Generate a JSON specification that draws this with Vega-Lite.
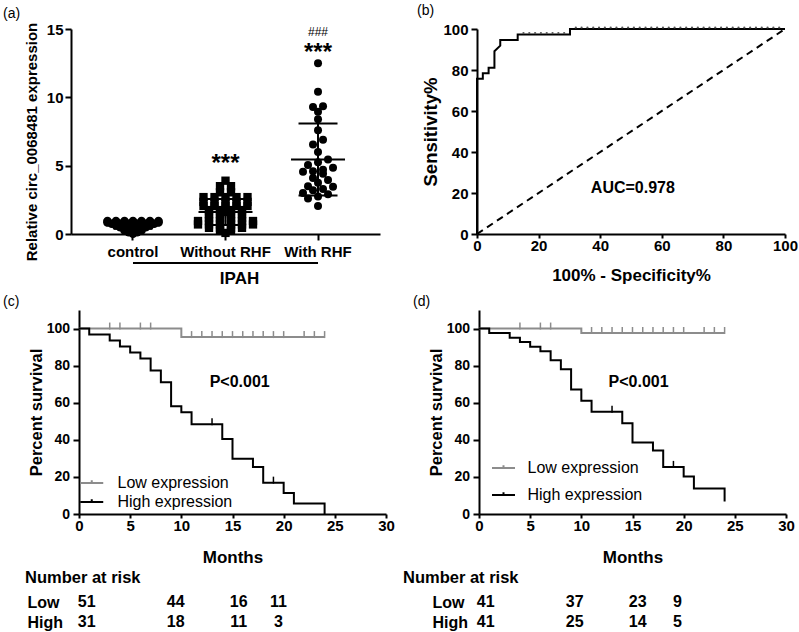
{
  "$schema": "https://vega.github.io/schema/vega-lite/v6.json",
  "padding": {"left": 3, "top": 3, "right": 0, "bottom": 0},
  "config": {
    "font": "Liberation Sans",
    "view": {"stroke": null},
    "axis": {"domainColor": "#000", "domainWidth": 2, "tickColor": "#000", "tickWidth": 2, "tickSize": 6, "labelColor": "#000", "labelFontSize": 15, "labelFontWeight": "bold", "titleColor": "#000", "titleFontSize": 15, "titleFontWeight": "bold", "grid": false, "labelPadding": 3, "labelFlush": false, "labelOverlap": false},
    "title": {"fontSize": 14, "fontWeight": "normal", "color": "#000", "anchor": "start", "frame": "group", "offset": 4}
  },
  "spacing": 4,
  "resolve": {"scale": {"color": "independent"}, "legend": {"color": "independent"}},
  "datasets": {
    "expr": [
      {"g":"control","v":0.95},{"g":"control","v":0.95},{"g":"control","v":0.95},{"g":"control","v":0.95},{"g":"control","v":0.95},{"g":"control","v":0.95},{"g":"control","v":0.95},
      {"g":"control","v":0.85},{"g":"control","v":0.85},{"g":"control","v":0.85},{"g":"control","v":0.85},{"g":"control","v":0.85},{"g":"control","v":0.85},{"g":"control","v":0.85},
      {"g":"control","v":0.75},{"g":"control","v":0.75},{"g":"control","v":0.75},{"g":"control","v":0.75},{"g":"control","v":0.75},{"g":"control","v":0.75},
      {"g":"control","v":0.62},{"g":"control","v":0.62},{"g":"control","v":0.62},{"g":"control","v":0.62},{"g":"control","v":0.62},
      {"g":"control","v":0.5},{"g":"control","v":0.5},{"g":"control","v":0.5},{"g":"control","v":0.5},
      {"g":"control","v":0.38},{"g":"control","v":0.38},{"g":"control","v":0.38},
      {"g":"control","v":0.26},{"g":"control","v":0.26},{"g":"control","v":0.26},
      {"g":"control","v":0.14},{"g":"control","v":0.14},
      {"g":"control","v":0.03},
      {"g":"Without RHF","v":3.9},
      {"g":"Without RHF","v":3.5},{"g":"Without RHF","v":3.5},
      {"g":"Without RHF","v":3.05},{"g":"Without RHF","v":3.05},
      {"g":"Without RHF","v":2.7},{"g":"Without RHF","v":2.7},{"g":"Without RHF","v":2.7},{"g":"Without RHF","v":2.7},{"g":"Without RHF","v":2.7},
      {"g":"Without RHF","v":2.35},{"g":"Without RHF","v":2.35},{"g":"Without RHF","v":2.35},{"g":"Without RHF","v":2.35},{"g":"Without RHF","v":2.35},
      {"g":"Without RHF","v":2.05},{"g":"Without RHF","v":2.05},{"g":"Without RHF","v":2.05},{"g":"Without RHF","v":2.05},{"g":"Without RHF","v":2.05},
      {"g":"Without RHF","v":1.75},{"g":"Without RHF","v":1.75},{"g":"Without RHF","v":1.75},{"g":"Without RHF","v":1.75},
      {"g":"Without RHF","v":1.6},
      {"g":"Without RHF","v":1.45},{"g":"Without RHF","v":1.45},{"g":"Without RHF","v":1.45},{"g":"Without RHF","v":1.45},
      {"g":"Without RHF","v":1.2},{"g":"Without RHF","v":1.2},{"g":"Without RHF","v":1.2},{"g":"Without RHF","v":1.2},
      {"g":"Without RHF","v":0.95},{"g":"Without RHF","v":0.95},{"g":"Without RHF","v":0.95},{"g":"Without RHF","v":0.95},{"g":"Without RHF","v":0.95},{"g":"Without RHF","v":0.95},
      {"g":"Without RHF","v":0.7},{"g":"Without RHF","v":0.7},{"g":"Without RHF","v":0.7},{"g":"Without RHF","v":0.7},{"g":"Without RHF","v":0.7},{"g":"Without RHF","v":0.7},
      {"g":"Without RHF","v":0.45},{"g":"Without RHF","v":0.45},{"g":"Without RHF","v":0.45},{"g":"Without RHF","v":0.45},
      {"g":"Without RHF","v":0.25},{"g":"Without RHF","v":0.25},
      {"g":"Without RHF","v":0.08},
      {"g":"With RHF","v":12.5},{"g":"With RHF","v":10.4},{"g":"With RHF","v":9.35},{"g":"With RHF","v":9.3},{"g":"With RHF","v":8.95},
      {"g":"With RHF","v":8.4},{"g":"With RHF","v":7.6},{"g":"With RHF","v":6.9},{"g":"With RHF","v":6.55},{"g":"With RHF","v":6.0},
      {"g":"With RHF","v":5.45},{"g":"With RHF","v":5.25},{"g":"With RHF","v":5.05},{"g":"With RHF","v":4.85},{"g":"With RHF","v":4.7},
      {"g":"With RHF","v":4.6},{"g":"With RHF","v":4.55},{"g":"With RHF","v":4.4},{"g":"With RHF","v":4.1},{"g":"With RHF","v":3.95},
      {"g":"With RHF","v":3.75},{"g":"With RHF","v":3.5},{"g":"With RHF","v":3.45},{"g":"With RHF","v":3.3},{"g":"With RHF","v":3.2},
      {"g":"With RHF","v":3.0},{"g":"With RHF","v":2.9},{"g":"With RHF","v":2.75},{"g":"With RHF","v":2.6},{"g":"With RHF","v":2.05}
    ],
    "roc": [
      {"fpr":0,"tpr":0},{"fpr":0,"tpr":75.68},{"fpr":1.89,"tpr":75.68},{"fpr":1.89,"tpr":78.38},{"fpr":3.77,"tpr":78.38},{"fpr":3.77,"tpr":81.08},
      {"fpr":5.66,"tpr":81.08},{"fpr":5.66,"tpr":89.19},{"fpr":7.55,"tpr":91.89},{"fpr":7.55,"tpr":94.59},{"fpr":13.21,"tpr":94.59},{"fpr":13.21,"tpr":97.3},
      {"fpr":30.19,"tpr":97.3},{"fpr":30.19,"tpr":100},{"fpr":100,"tpr":100}
    ],
    "rocdots": [
      {"fpr":15.09,"tpr":97.3},{"fpr":16.98,"tpr":97.3},{"fpr":18.87,"tpr":97.3},{"fpr":20.75,"tpr":97.3},{"fpr":22.64,"tpr":97.3},{"fpr":24.53,"tpr":97.3},{"fpr":26.42,"tpr":97.3},{"fpr":28.3,"tpr":97.3},
      {"fpr":32.08,"tpr":100},{"fpr":33.96,"tpr":100},{"fpr":35.85,"tpr":100},{"fpr":37.74,"tpr":100},{"fpr":39.62,"tpr":100},{"fpr":41.51,"tpr":100},{"fpr":43.4,"tpr":100},{"fpr":45.28,"tpr":100},
      {"fpr":47.17,"tpr":100},{"fpr":49.06,"tpr":100},{"fpr":50.94,"tpr":100},{"fpr":52.83,"tpr":100},{"fpr":54.72,"tpr":100},{"fpr":56.6,"tpr":100},{"fpr":58.49,"tpr":100},{"fpr":60.38,"tpr":100},
      {"fpr":62.26,"tpr":100},{"fpr":64.15,"tpr":100},{"fpr":66.04,"tpr":100},{"fpr":67.92,"tpr":100},{"fpr":69.81,"tpr":100},{"fpr":71.7,"tpr":100},{"fpr":73.58,"tpr":100},{"fpr":75.47,"tpr":100},
      {"fpr":77.36,"tpr":100},{"fpr":79.25,"tpr":100},{"fpr":81.13,"tpr":100},{"fpr":83.02,"tpr":100},{"fpr":84.91,"tpr":100},{"fpr":86.79,"tpr":100},{"fpr":88.68,"tpr":100},{"fpr":90.57,"tpr":100},
      {"fpr":92.45,"tpr":100},{"fpr":94.34,"tpr":100},{"fpr":96.23,"tpr":100},{"fpr":98.11,"tpr":100}
    ],
    "km": [
      {"p":"c","grp":"Low expression","t":0,"s":100},{"p":"c","grp":"Low expression","t":10,"s":95.4},{"p":"c","grp":"Low expression","t":24,"s":95.4},
      {"p":"c","grp":"High expression","t":0,"s":100},{"p":"c","grp":"High expression","t":1,"s":96.8},{"p":"c","grp":"High expression","t":3,"s":93.5},
      {"p":"c","grp":"High expression","t":4,"s":90.3},{"p":"c","grp":"High expression","t":5,"s":87.1},{"p":"c","grp":"High expression","t":6,"s":83.9},
      {"p":"c","grp":"High expression","t":7,"s":77.4},{"p":"c","grp":"High expression","t":8,"s":71.0},{"p":"c","grp":"High expression","t":9,"s":58.1},
      {"p":"c","grp":"High expression","t":10,"s":54.8},{"p":"c","grp":"High expression","t":11,"s":48.4},{"p":"c","grp":"High expression","t":14,"s":40.5},
      {"p":"c","grp":"High expression","t":15,"s":29.8},{"p":"c","grp":"High expression","t":17,"s":25.4},{"p":"c","grp":"High expression","t":18,"s":16.9},
      {"p":"c","grp":"High expression","t":20,"s":11.3},{"p":"c","grp":"High expression","t":21,"s":5.7},{"p":"c","grp":"High expression","t":24,"s":0},
      {"p":"d","grp":"Low expression","t":0,"s":100},{"p":"d","grp":"Low expression","t":10,"s":97.6},{"p":"d","grp":"Low expression","t":24,"s":97.6},
      {"p":"d","grp":"High expression","t":0,"s":100},{"p":"d","grp":"High expression","t":1,"s":97.6},{"p":"d","grp":"High expression","t":3,"s":95.1},
      {"p":"d","grp":"High expression","t":4,"s":92.7},{"p":"d","grp":"High expression","t":5,"s":90.2},{"p":"d","grp":"High expression","t":6,"s":87.8},
      {"p":"d","grp":"High expression","t":7,"s":82.9},{"p":"d","grp":"High expression","t":8,"s":78.0},{"p":"d","grp":"High expression","t":9,"s":67.1},
      {"p":"d","grp":"High expression","t":10,"s":61.0},{"p":"d","grp":"High expression","t":11,"s":55.1},{"p":"d","grp":"High expression","t":14,"s":49.0},
      {"p":"d","grp":"High expression","t":15,"s":38.5},{"p":"d","grp":"High expression","t":17,"s":34.2},{"p":"d","grp":"High expression","t":18,"s":25.4},
      {"p":"d","grp":"High expression","t":20,"s":20.2},{"p":"d","grp":"High expression","t":21,"s":13.8},{"p":"d","grp":"High expression","t":24,"s":6.8}
    ],
    "cens": [
      {"p":"c","grp":"Low expression","t":3,"s":100},{"p":"c","grp":"Low expression","t":4,"s":100},{"p":"c","grp":"Low expression","t":6,"s":100},{"p":"c","grp":"Low expression","t":7,"s":100},
      {"p":"c","grp":"Low expression","t":11,"s":95.4},{"p":"c","grp":"Low expression","t":12,"s":95.4},{"p":"c","grp":"Low expression","t":13,"s":95.4},{"p":"c","grp":"Low expression","t":14,"s":95.4},
      {"p":"c","grp":"Low expression","t":15,"s":95.4},{"p":"c","grp":"Low expression","t":16,"s":95.4},{"p":"c","grp":"Low expression","t":17,"s":95.4},{"p":"c","grp":"Low expression","t":18,"s":95.4},
      {"p":"c","grp":"Low expression","t":19,"s":95.4},{"p":"c","grp":"Low expression","t":20,"s":95.4},{"p":"c","grp":"Low expression","t":22,"s":95.4},{"p":"c","grp":"Low expression","t":23,"s":95.4},
      {"p":"c","grp":"Low expression","t":24,"s":95.4},
      {"p":"c","grp":"High expression","t":13,"s":48.4},{"p":"c","grp":"High expression","t":19,"s":16.9},
      {"p":"d","grp":"Low expression","t":4,"s":100},{"p":"d","grp":"Low expression","t":6,"s":100},{"p":"d","grp":"Low expression","t":7,"s":100},
      {"p":"d","grp":"Low expression","t":11,"s":97.6},{"p":"d","grp":"Low expression","t":12,"s":97.6},{"p":"d","grp":"Low expression","t":13,"s":97.6},{"p":"d","grp":"Low expression","t":14,"s":97.6},
      {"p":"d","grp":"Low expression","t":15,"s":97.6},{"p":"d","grp":"Low expression","t":16,"s":97.6},{"p":"d","grp":"Low expression","t":17,"s":97.6},{"p":"d","grp":"Low expression","t":18,"s":97.6},
      {"p":"d","grp":"Low expression","t":19,"s":97.6},{"p":"d","grp":"Low expression","t":20,"s":97.6},{"p":"d","grp":"Low expression","t":22,"s":97.6},{"p":"d","grp":"Low expression","t":23,"s":97.6},
      {"p":"d","grp":"Low expression","t":24,"s":97.6},
      {"p":"d","grp":"High expression","t":13,"s":55.1},{"p":"d","grp":"High expression","t":19,"s":25.4}
    ],
    "risk": [
      {"p":"c","row":"Low","t":0.75,"n":51},{"p":"c","row":"Low","t":9.45,"n":44},{"p":"c","row":"Low","t":15.6,"n":16},{"p":"c","row":"Low","t":19.5,"n":11},
      {"p":"c","row":"High","t":0.75,"n":31},{"p":"c","row":"High","t":9.45,"n":18},{"p":"c","row":"High","t":15.6,"n":11},{"p":"c","row":"High","t":19.5,"n":3},
      {"p":"d","row":"Low","t":0.75,"n":41},{"p":"d","row":"Low","t":9.45,"n":37},{"p":"d","row":"Low","t":15.6,"n":23},{"p":"d","row":"Low","t":19.5,"n":9},
      {"p":"d","row":"High","t":0.75,"n":41},{"p":"d","row":"High","t":9.45,"n":25},{"p":"d","row":"High","t":15.6,"n":14},{"p":"d","row":"High","t":19.5,"n":5}
    ]
  },
  "vconcat": [
    {
      "spacing": 9,
      "resolve": {"scale": {"color": "independent"}, "legend": {"color": "independent"}},
      "vconcat": [
        {
          "spacing": 37,
          "hconcat": [
            {
              "width": 309, "height": 205,
              "title": {"text": "(a)", "dx": -68, "offset": 1.5},
              "layer": [
                {
                  "data": {"name": "expr"},
                  "transform": [
                    {"calculate": "datum.g === 'With RHF' ? floor(datum.v * 2) : datum.v", "as": "lvl"},
                    {"window": [{"op": "row_number", "as": "rn"}], "groupby": ["g", "lvl"], "sort": [{"field": "v"}]},
                    {"joinaggregate": [{"op": "count", "as": "cnt"}], "groupby": ["g", "lvl"]},
                    {"calculate": "(datum.rn - (datum.cnt + 1) / 2) * (datum.g === 'control' ? 8.5 : (datum.g === 'Without RHF' ? 11 : 10))", "as": "off"}
                  ],
                  "mark": {"type": "point", "filled": true, "opacity": 1, "color": "#000"},
                  "encoding": {
                    "x": {"field": "g", "type": "nominal", "sort": null, "title": "IPAH", "scale": {"domain": ["control", "Without RHF", "With RHF"], "paddingInner": 0.2, "paddingOuter": 0.27}, "axis": {"labelAngle": 0, "tickSize": 6, "labelPadding": 4, "titleX": 168, "titleFontSize": 17, "titlePadding": 11}},
                    "xOffset": {"field": "off", "type": "quantitative", "scale": {"domain": [-37, 37]}},
                    "y": {"field": "v", "type": "quantitative", "title": "Relative circ_0068481 expression", "scale": {"domain": [0, 15], "nice": false}, "axis": {"values": [0, 5, 10, 15], "labelPadding": 2, "titlePadding": 7, "titleY": 112.5}},
                    "shape": {"field": "g", "type": "nominal", "scale": {"domain": ["control", "Without RHF", "With RHF"], "range": ["circle", "square", "circle"]}, "legend": null},
                    "size": {"field": "g", "type": "nominal", "scale": {"domain": ["control", "Without RHF", "With RHF"], "range": [75, 64, 90]}, "legend": null}
                  }
                },
                {
                  "data": {"name": "expr"},
                  "transform": [
                    {"aggregate": [{"op": "mean", "field": "v", "as": "m"}, {"op": "stdev", "field": "v", "as": "sd"}], "groupby": ["g"]},
                    {"calculate": "datum.m - datum.sd", "as": "lo"},
                    {"calculate": "datum.m + datum.sd", "as": "hi"}
                  ],
                  "layer": [
                    {"mark": {"type": "rule", "strokeWidth": 2, "color": "#000"},
                     "encoding": {"x": {"field": "g", "type": "nominal", "title": "IPAH"}, "y": {"field": "lo", "type": "quantitative", "title": "Relative circ_0068481 expression", "scale": {"domain": [0, 15], "nice": false}}, "y2": {"field": "hi"}}},
                    {"mark": {"type": "tick", "orient": "horizontal", "thickness": 2, "size": 54, "color": "#000", "opacity": 1},
                     "encoding": {"x": {"field": "g", "type": "nominal", "title": "IPAH"}, "y": {"field": "m", "type": "quantitative", "title": "Relative circ_0068481 expression", "scale": {"domain": [0, 15], "nice": false}}}},
                    {"mark": {"type": "tick", "orient": "horizontal", "thickness": 2, "size": 39, "color": "#000", "opacity": 1},
                     "encoding": {"x": {"field": "g", "type": "nominal", "title": "IPAH"}, "y": {"field": "lo", "type": "quantitative", "title": "Relative circ_0068481 expression", "scale": {"domain": [0, 15], "nice": false}}}},
                    {"mark": {"type": "tick", "orient": "horizontal", "thickness": 2, "size": 39, "color": "#000", "opacity": 1},
                     "encoding": {"x": {"field": "g", "type": "nominal", "title": "IPAH"}, "y": {"field": "hi", "type": "quantitative", "title": "Relative circ_0068481 expression", "scale": {"domain": [0, 15], "nice": false}}}}
                  ]
                },
                {
                  "data": {"values": [{"from": "control", "to": "With RHF", "y": -2.12}]},
                  "mark": {"type": "rule", "strokeWidth": 2, "color": "#000"},
                  "encoding": {"x": {"field": "from", "type": "nominal", "title": "IPAH"}, "x2": {"field": "to"}, "y": {"field": "y", "type": "quantitative", "title": "Relative circ_0068481 expression", "scale": {"domain": [0, 15], "nice": false}}}
                },
                {
                  "data": {"values": [{"g": "Without RHF", "y": 5.1, "lab": "***"}, {"g": "With RHF", "y": 13.25, "lab": "***"}]},
                  "mark": {"type": "text", "fontSize": 24, "fontWeight": "bold", "baseline": "middle", "color": "#000"},
                  "encoding": {"x": {"field": "g", "type": "nominal", "title": "IPAH"}, "y": {"field": "y", "type": "quantitative", "title": "Relative circ_0068481 expression", "scale": {"domain": [0, 15], "nice": false}}, "text": {"field": "lab"}}
                },
                {
                  "data": {"values": [{"g": "With RHF", "y": 14.8, "lab": "###"}]},
                  "mark": {"type": "text", "fontSize": 12, "baseline": "middle", "color": "#000"},
                  "encoding": {"x": {"field": "g", "type": "nominal", "title": "IPAH"}, "y": {"field": "y", "type": "quantitative", "title": "Relative circ_0068481 expression", "scale": {"domain": [0, 15], "nice": false}}, "text": {"field": "lab"}}
                }
              ]
            },
            {
              "width": 308, "height": 205,
              "title": {"text": "(b)", "dx": -60, "offset": 4.5},
              "layer": [
                {
                  "data": {"values": [{"x0": 0, "y0": 0, "x1": 100, "y1": 100}]},
                  "mark": {"type": "rule", "strokeDash": [7, 5], "strokeWidth": 2, "color": "#000"},
                  "encoding": {
                    "x": {"field": "x0", "type": "quantitative", "title": "100% - Specificity%", "scale": {"domain": [0, 100], "nice": false}, "axis": {"values": [0, 20, 40, 60, 80, 100], "tickSize": 4, "labelPadding": 0, "titleFontSize": 17, "titlePadding": 14}},
                    "y": {"field": "y0", "type": "quantitative", "title": "Sensitivity%", "scale": {"domain": [0, 100], "nice": false}, "axis": {"values": [0, 20, 40, 60, 80, 100], "labelPadding": 3, "titleFontSize": 18.5, "titlePadding": 2}},
                    "x2": {"field": "x1"}, "y2": {"field": "y1"}
                  }
                },
                {
                  "data": {"name": "roc"},
                  "mark": {"type": "line", "color": "#000", "strokeWidth": 2},
                  "encoding": {"x": {"field": "fpr", "type": "quantitative", "title": "100% - Specificity%", "scale": {"domain": [0, 100], "nice": false}}, "y": {"field": "tpr", "type": "quantitative", "title": "Sensitivity%", "scale": {"domain": [0, 100], "nice": false}}, "order": {"value": null}}
                },
                {
                  "data": {"name": "rocdots"},
                  "mark": {"type": "point", "filled": true, "size": 5, "color": "#555", "opacity": 1, "yOffset": -1.5},
                  "encoding": {"x": {"field": "fpr", "type": "quantitative", "title": "100% - Specificity%", "scale": {"domain": [0, 100], "nice": false}}, "y": {"field": "tpr", "type": "quantitative", "title": "Sensitivity%", "scale": {"domain": [0, 100], "nice": false}}}
                },
                {
                  "data": {"values": [{"fpr": 50.6, "tpr": 22.4, "lab": "AUC=0.978"}]},
                  "mark": {"type": "text", "fontSize": 16, "fontWeight": "bold", "color": "#000"},
                  "encoding": {"x": {"field": "fpr", "type": "quantitative", "title": "100% - Specificity%", "scale": {"domain": [0, 100], "nice": false}}, "y": {"field": "tpr", "type": "quantitative", "title": "Sensitivity%", "scale": {"domain": [0, 100], "nice": false}}, "text": {"field": "lab"}}
                }
              ]
            }
          ]
        },
        {
          "spacing": 18,
          "resolve": {"scale": {"color": "independent"}, "legend": {"color": "independent"}},
          "hconcat": [
            {
              "spacing": -69,
              "resolve": {"scale": {"color": "independent"}, "legend": {"color": "independent"}},
              "hconcat": [
                {"width": 1, "height": 1, "data": {"values": []}, "mark": "point"},
                {
                  "width": 307, "height": 204,
                  "title": {"text": "(c)", "dx": -76, "offset": 1},
                  "layer": [
                    {
                      "data": {"name": "km"},
                      "transform": [{"filter": "datum.p === 'c'"}],
                      "mark": {"type": "line", "interpolate": "step-after", "strokeWidth": 2},
                      "encoding": {
                        "x": {"field": "t", "type": "quantitative", "title": "Months", "scale": {"domain": [0, 30], "nice": false}, "axis": {"values": [0, 5, 10, 15, 20, 25, 30], "tickSize": 4, "labelPadding": 0, "titleFontSize": 17, "titlePadding": 16}},
                        "y": {"field": "s", "type": "quantitative", "title": "Percent survival", "scale": {"domain": [0, 110], "nice": false}, "axis": {"values": [0, 20, 40, 60, 80, 100], "labelFontSize": 14, "labelPadding": 3.5, "titleFontSize": 16.5, "titlePadding": 2}},
                        "color": {"field": "grp", "type": "nominal", "scale": {"domain": ["Low expression", "High expression"], "range": ["#8c8c8c", "#000000"]},
                          "legend": {"orient": "none", "legendX": 4.75, "legendY": 165, "title": null, "symbolType": "M-2,0L2,0M0,0L0,-0.5", "symbolSize": 132, "symbolStrokeWidth": 2, "labelFontSize": 16, "labelColor": "#000", "labelOffset": 17.75, "rowPadding": 3, "padding": 0}},
                        "order": {"value": null}
                      }
                    },
                    {
                      "data": {"name": "cens"},
                      "transform": [{"filter": "datum.p === 'c' && datum.grp === 'Low expression'"}],
                      "mark": {"type": "tick", "orient": "vertical", "size": 7, "thickness": 1.5, "color": "#8c8c8c", "opacity": 1, "yOffset": -2.5},
                      "encoding": {"x": {"field": "t", "type": "quantitative", "title": "Months", "scale": {"domain": [0, 30], "nice": false}}, "y": {"field": "s", "type": "quantitative", "title": "Percent survival", "scale": {"domain": [0, 110], "nice": false}}}
                    },
                    {
                      "data": {"name": "cens"},
                      "transform": [{"filter": "datum.p === 'c' && datum.grp === 'High expression'"}],
                      "mark": {"type": "tick", "orient": "vertical", "size": 7, "thickness": 1.5, "color": "#000", "opacity": 1, "yOffset": -2.5},
                      "encoding": {"x": {"field": "t", "type": "quantitative", "title": "Months", "scale": {"domain": [0, 30], "nice": false}}, "y": {"field": "s", "type": "quantitative", "title": "Percent survival", "scale": {"domain": [0, 110], "nice": false}}}
                    },
                    {
                      "data": {"values": [{"t": 15.7, "s": 71.1, "lab": "P<0.001"}]},
                      "mark": {"type": "text", "fontSize": 16, "fontWeight": "bold", "color": "#000"},
                      "encoding": {"x": {"field": "t", "type": "quantitative", "title": "Months", "scale": {"domain": [0, 30], "nice": false}}, "y": {"field": "s", "type": "quantitative", "title": "Percent survival", "scale": {"domain": [0, 110], "nice": false}}, "text": {"field": "lab"}}
                    }
                  ]
                }
              ]
            },
            {
              "width": 307, "height": 204,
              "title": {"text": "(d)", "dx": -66, "offset": 1},
              "layer": [
                {
                  "data": {"name": "km"},
                  "transform": [{"filter": "datum.p === 'd'"}],
                  "mark": {"type": "line", "interpolate": "step-after", "strokeWidth": 2},
                  "encoding": {
                    "x": {"field": "t", "type": "quantitative", "title": "Months", "scale": {"domain": [0, 30], "nice": false}, "axis": {"values": [0, 5, 10, 15, 20, 25, 30], "tickSize": 4, "labelPadding": 0, "titleFontSize": 17, "titlePadding": 16}},
                    "y": {"field": "s", "type": "quantitative", "title": "Percent survival", "scale": {"domain": [0, 110], "nice": false}, "axis": {"values": [0, 20, 40, 60, 80, 100], "labelFontSize": 14, "labelPadding": 3.5, "titleFontSize": 16.5, "titlePadding": 2}},
                    "color": {"field": "grp", "type": "nominal", "scale": {"domain": ["Low expression", "High expression"], "range": ["#8c8c8c", "#000000"]},
                      "legend": {"orient": "none", "legendX": 16.5, "legendY": 150, "title": null, "symbolType": "M-2,0L2,0M0,0L0,-0.5", "symbolSize": 132, "symbolStrokeWidth": 2, "labelFontSize": 16, "labelColor": "#000", "labelOffset": 16, "rowPadding": 11, "padding": 0}},
                    "order": {"value": null}
                  }
                },
                {
                  "data": {"name": "cens"},
                  "transform": [{"filter": "datum.p === 'd' && datum.grp === 'Low expression'"}],
                  "mark": {"type": "tick", "orient": "vertical", "size": 7, "thickness": 1.5, "color": "#8c8c8c", "opacity": 1, "yOffset": -2.5},
                  "encoding": {"x": {"field": "t", "type": "quantitative", "title": "Months", "scale": {"domain": [0, 30], "nice": false}}, "y": {"field": "s", "type": "quantitative", "title": "Percent survival", "scale": {"domain": [0, 110], "nice": false}}}
                },
                {
                  "data": {"name": "cens"},
                  "transform": [{"filter": "datum.p === 'd' && datum.grp === 'High expression'"}],
                  "mark": {"type": "tick", "orient": "vertical", "size": 7, "thickness": 1.5, "color": "#000", "opacity": 1, "yOffset": -2.5},
                  "encoding": {"x": {"field": "t", "type": "quantitative", "title": "Months", "scale": {"domain": [0, 30], "nice": false}}, "y": {"field": "s", "type": "quantitative", "title": "Percent survival", "scale": {"domain": [0, 110], "nice": false}}}
                },
                {
                  "data": {"values": [{"t": 15.6, "s": 71.1, "lab": "P<0.001"}]},
                  "mark": {"type": "text", "fontSize": 16, "fontWeight": "bold", "color": "#000"},
                  "encoding": {"x": {"field": "t", "type": "quantitative", "title": "Months", "scale": {"domain": [0, 30], "nice": false}}, "y": {"field": "s", "type": "quantitative", "title": "Percent survival", "scale": {"domain": [0, 110], "nice": false}}, "text": {"field": "lab"}}
                }
              ]
            }
          ]
        }
      ]
    },
    {
      "spacing": 17,
      "hconcat": [
        {
          "width": 315, "height": 40,
          "title": {"text": "Number at risk", "dx": -46, "fontSize": 16.5, "fontWeight": "bold", "offset": 6},
          "data": {"name": "risk"},
          "transform": [{"filter": "datum.p === 'c'"}],
          "mark": {"type": "text", "fontSize": 16, "fontWeight": "bold", "color": "#000"},
          "encoding": {
            "x": {"field": "t", "type": "quantitative", "scale": {"domain": [-0.782, 30], "nice": false, "zero": false}, "axis": null},
            "y": {"field": "row", "type": "nominal", "scale": {"type": "point", "domain": ["Low", "High"], "padding": 0.5}, "axis": {"title": null, "domain": false, "ticks": false, "tickSize": 0, "labelAlign": "left", "labelPadding": 44, "labelFontSize": 16, "labelFontWeight": "bold"}},
            "text": {"field": "n", "type": "quantitative"}
          }
        },
        {
          "width": 307, "height": 40,
          "title": {"text": "Number at risk", "dx": -75, "fontSize": 16.5, "fontWeight": "bold", "offset": 6},
          "data": {"name": "risk"},
          "transform": [{"filter": "datum.p === 'd'"}],
          "mark": {"type": "text", "fontSize": 16, "fontWeight": "bold", "color": "#000"},
          "encoding": {
            "x": {"field": "t", "type": "quantitative", "scale": {"domain": [0, 30], "nice": false}, "axis": null},
            "y": {"field": "row", "type": "nominal", "scale": {"type": "point", "domain": ["Low", "High"], "padding": 0.5}, "axis": {"title": null, "domain": false, "ticks": false, "tickSize": 0, "labelAlign": "left", "labelPadding": 46, "labelFontSize": 16, "labelFontWeight": "bold"}},
            "text": {"field": "n", "type": "quantitative"}
          }
        }
      ]
    }
  ]
}
